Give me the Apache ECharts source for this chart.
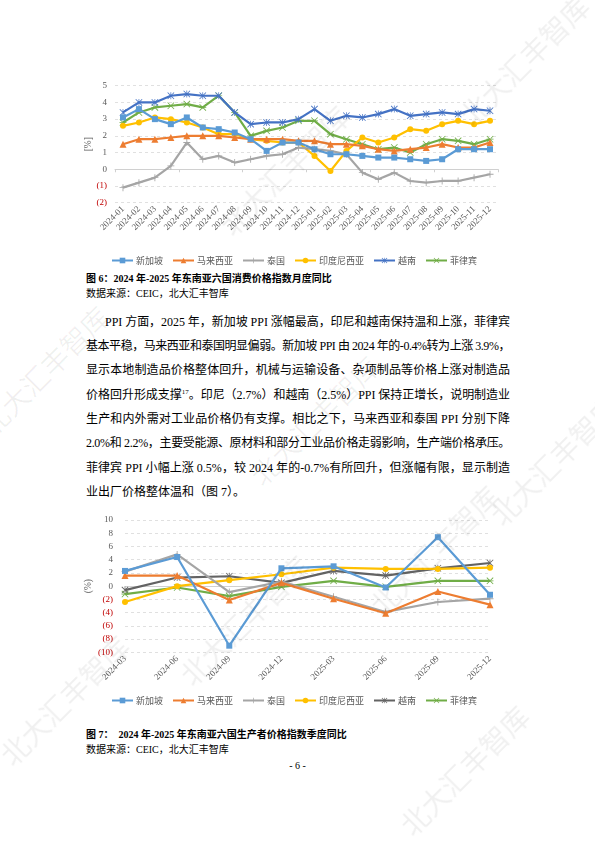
<!DOCTYPE html>
<html><head><meta charset="utf-8">
<script src="https://cdn.jsdelivr.net/npm/echarts@6/dist/echarts.min.js"></script>
<style>
html,body{margin:0;padding:0;}
body{width:595px;height:841px;background:#fff;position:relative;overflow:hidden;font-family:"Liberation Serif","Noto Sans CJK SC",serif;color:#000;}
#c1{position:absolute;left:0;top:70px;width:595px;height:200px;}
#c2{position:absolute;left:0;top:505px;width:595px;height:215px;}
.cap{position:absolute;left:86px;font-size:10px;font-weight:bold;white-space:nowrap;}
.src{position:absolute;left:86px;font-size:10px;white-space:nowrap;}
.para{position:absolute;left:86px;width:424px;top:309.5px;font-size:12px;line-height:24.4px;}
.para .ln{white-space:nowrap;text-align:justify;text-align-last:justify;height:24.4px;}
.para .last{text-align:left;text-align-last:left;}
.pg{position:absolute;left:0;width:595px;top:760px;text-align:center;font-size:10px;}
.wm{position:absolute;font-family:"Noto Sans CJK SC";font-size:28px;color:rgba(0,0,0,0.06);transform:rotate(-45deg);white-space:nowrap;pointer-events:none;}
</style>
</head><body>
<div id="c1"></div>
<div class="cap" style="top:270px;">图 6：2024 年-2025 年东南亚六国消费价格指数月度同比</div>
<div class="src" style="top:285px;">数据来源：CEIC，北大汇丰智库</div>
<div class="para" id="para">
<div class="ln" style="padding-left:19px;">PPI 方面，2025 年，新加坡 PPI 涨幅最高，印尼和越南保持温和上涨，菲律宾</div>
<div class="ln">基本平稳，马来西亚和泰国明显偏弱。新加坡 PPI 由 2024 年的-0.4%转为上涨 3.9%，</div>
<div class="ln">显示本地制造品价格整体回升，机械与运输设备、杂项制品等价格上涨对制造品</div>
<div class="ln">价格回升形成支撑<sup style="font-size:7px;line-height:0;">17</sup>。印尼（2.7%）和越南（2.5%）PPI 保持正增长，说明制造业</div>
<div class="ln">生产和内外需对工业品价格仍有支撑。相比之下，马来西亚和泰国 PPI 分别下降</div>
<div class="ln">2.0%和 2.2%，主要受能源、原材料和部分工业品价格走弱影响，生产端价格承压。</div>
<div class="ln">菲律宾 PPI 小幅上涨 0.5%，较 2024 年的-0.7%有所回升，但涨幅有限，显示制造</div>
<div class="ln last">业出厂价格整体温和（图 7）。</div>
</div>
<div id="c2"></div>
<div class="cap" style="top:726px;">图 7：&nbsp; 2024 年-2025 年东南亚六国生产者价格指数季度同比</div>
<div class="src" style="top:741px;">数据来源：CEIC，北大汇丰智库</div>
<div class="pg">- 6 -</div>
<div class="wm" style="left:440px;top:40px;">北大汇丰智库</div>
<div class="wm" style="left:-40px;top:350px;">北大汇丰智库</div>
<div class="wm" style="left:470px;top:440px;">北大汇丰智库</div>
<div class="wm" style="left:-20px;top:680px;">北大汇丰智库</div>
<div class="wm" style="left:380px;top:750px;">北大汇丰智库</div>
<div class="wm" style="left:200px;top:150px;">北大汇丰智库</div>
<div class="wm" style="left:230px;top:400px;">北大汇丰智库</div>
<div class="wm" style="left:160px;top:600px;">北大汇丰智库</div>
<div class="wm" style="left:350px;top:530px;">北大汇丰智库</div>
<script>
// ---------- data ----------
const months = ['2024-01','2024-02','2024-03','2024-04','2024-05','2024-06','2024-07','2024-08','2024-09','2024-10','2024-11','2024-12',
                '2025-01','2025-02','2025-03','2025-04','2025-05','2025-06','2025-07','2025-08','2025-09','2025-10','2025-11','2025-12'];
const names = ['新加坡','马来西亚','泰国','印度尼西亚','越南','菲律宾'];
const cpiSingapore   = [3.1,3.6,3.0,2.7,3.1,2.5,2.4,2.2,1.8,1.1,1.6,1.6,1.2,0.9,0.9,0.8,0.7,0.7,0.6,0.5,0.6,1.2,1.2,1.2];
const cpiMalaysia    = [1.5,1.8,1.8,1.9,2.0,2.0,2.0,1.9,1.8,1.8,1.8,1.7,1.7,1.5,1.5,1.4,1.2,1.1,1.2,1.3,1.5,1.3,1.3,1.6];
const cpiThailand    = [-1.1,-0.8,-0.5,0.2,1.6,0.6,0.8,0.4,0.6,0.8,0.9,1.3,1.2,1.1,0.9,-0.2,-0.6,-0.2,-0.7,-0.8,-0.7,-0.7,-0.5,-0.3];
const cpiIndonesia   = [2.6,2.8,3.1,3.0,2.8,2.5,2.1,2.1,1.8,1.7,1.6,1.6,0.8,-0.1,1.1,1.9,1.6,1.9,2.4,2.3,2.7,2.9,2.7,2.9];
const cpiVietnam     = [3.4,4.0,4.0,4.4,4.5,4.4,4.4,3.4,2.7,2.8,2.8,3.0,3.6,2.9,3.2,3.1,3.3,3.6,3.2,3.3,3.4,3.3,3.6,3.5];
const cpiPhilippines = [2.8,3.4,3.7,3.8,3.9,3.7,4.4,3.4,2.0,2.3,2.5,2.9,2.9,2.1,1.8,1.5,1.2,1.3,1.0,1.5,1.8,1.7,1.5,1.8];
const cpiTicks = [-2,-1,0,1,2,3,4,5];

const quarters = ['2024-03','2024-06','2024-09','2024-12','2025-03','2025-06','2025-09','2025-12'];
const ppiSingapore   = [2.3,4.4,-9.0,2.7,3.0,-0.2,7.4,-1.3];
const ppiMalaysia    = [1.6,1.6,-2.1,0.5,-1.9,-4.1,-0.8,-2.8];
const ppiThailand    = [2.2,4.8,-0.9,0.7,-1.6,-3.9,-2.4,-1.9];
const ppiIndonesia   = [-2.4,0.0,0.9,1.8,2.8,2.6,2.6,2.8];
const ppiVietnam     = [-0.6,1.3,1.5,0.5,2.3,1.6,2.7,3.5];
const ppiPhilippines = [-1.2,-0.2,-1.5,-0.1,0.8,-0.1,0.8,0.8];
const ppiTicks = [-10,-8,-6,-4,-2,0,2,4,6,8,10];

// ---------- styles ----------
const SYM_PLUS = 'path://M4.4,0H5.6V4.4H10V5.6H5.6V10H4.4V5.6H0V4.4H4.4Z';
const SYM_STAR = 'path://M4.5,0H5.5V10H4.5Z M0,0.8L0.8,0L10,9.2L9.2,10Z M10,0.8L9.2,0L0,9.2L0.8,10Z';
const SYM_X = 'path://M0,0.8L0.8,0L10,9.2L9.2,10Z M10,0.8L9.2,0L0,9.2L0.8,10Z M0,4.5H10V5.5H0Z';
const symbols = ['rect','triangle',SYM_PLUS,'circle',SYM_STAR,SYM_X];
const symSizes = [6,7,7,6,7,7];
const colors1 = ['#5B9BD5','#ED7D31','#A5A5A5','#FFC000','#4472C4','#70AD47'];
const colors2 = ['#5B9BD5','#ED7D31','#A5A5A5','#FFC000','#636363','#70AD47'];
const GRAY = '#595959';
const RED = '#C00000';
const fmt = v => v < 0 ? '(' + (-v) + ')' : String(v);

function makeSeries(arrs, colors){
  return arrs.map((d,i)=>({
    name: names[i], type:'line', data:d, xAxisIndex:0, yAxisIndex:0,
    symbol: symbols[i], symbolSize: symSizes[i], showSymbol:true,
    lineStyle:{color:colors[i], width:2.2},
    itemStyle:{color:colors[i], borderColor:colors[i], borderWidth:0},
    emphasis:{disabled:true}, animation:false, z: 10 - i
  }));
}

function makeOption(cfg){
  return {
    animation:false,
    color: cfg.colors,
    grid: cfg.grid,
    legend: {
      data: names, left: cfg.legendLeft, top: cfg.legendTop,
      itemWidth: 21, itemHeight: 7, itemGap: 9,
      textStyle:{fontFamily:'"Noto Sans CJK SC"', fontSize:9, color:GRAY, padding:[0,0,0,-2]}
    },
    xAxis: [
      { type:'category', data: cfg.cats, boundaryGap: cfg.boundaryGap, position:'bottom',
        axisLine:{show:false, onZero:false}, axisTick:{show:false},
        axisLabel:{interval:0, rotate:45, fontFamily:'"Liberation Serif"', fontSize:9, color:GRAY, margin:5},
        splitLine:{show:false} },
      { type:'category', data: cfg.cats, boundaryGap: cfg.boundaryGap, position:'bottom',
        axisLine:{show:true, onZero:true, lineStyle:{color:'#D0D0D0', width:1}},
        axisTick:{show:cfg.zeroTicks, length:3, lineStyle:{color:'#D0D0D0'}},
        axisLabel:{show:false}, splitLine:{show:false} }
    ],
    yAxis: {
      type:'value', min: cfg.ticks[0], max: cfg.ticks[cfg.ticks.length-1], interval: cfg.ticks[1]-cfg.ticks[0],
      name: cfg.yName, nameLocation:'middle', nameRotate:90, nameGap: cfg.nameGap, nameMoveOverlap:false,
      nameTextStyle:{fontFamily:'"Liberation Serif"', fontSize:9.5, color:GRAY},
      axisLine:{show:false}, axisTick:{show:false},
      axisLabel:{formatter: fmt, fontFamily:'"Liberation Serif"', fontSize:9, margin:cfg.labelMargin,
        color: v => (Number(v) < 0 ? RED : GRAY)},
      splitLine:{show:true, lineStyle:{color:'#D9D9D9', type:[3,3], width:0.8}}
    },
    series: makeSeries(cfg.data, cfg.colors)
  };
}

const c1 = echarts.init(document.getElementById('c1'), null, {renderer:'canvas'});
c1.setOption(makeOption({
  colors: colors1, cats: months, boundaryGap:true, zeroTicks:true,
  grid:{left:115, right:97, top:15.7, height:117},
  legendLeft:106, legendTop:181,
  ticks: cpiTicks, yName:'[%]', nameGap:22, labelMargin:8,
  data:[cpiSingapore,cpiMalaysia,cpiThailand,cpiIndonesia,cpiVietnam,cpiPhilippines]
}));

const c2 = echarts.init(document.getElementById('c2'), null, {renderer:'canvas'});
c2.setOption(makeOption({
  colors: colors2, cats: quarters, boundaryGap:false, zeroTicks:false,
  grid:{left:125, right:105, top:15, height:132.3},
  legendLeft:106, legendTop:186,
  ticks: ppiTicks, yName:'(%)', nameGap:32, labelMargin:12,
  data:[ppiSingapore,ppiMalaysia,ppiThailand,ppiIndonesia,ppiVietnam,ppiPhilippines]
}));

// fit each paragraph line into the text width
document.querySelectorAll('#para .ln').forEach(el=>{
  const target = 424 - (parseFloat(el.style.paddingLeft)||0);
  const range = document.createRange(); range.selectNodeContents(el);
  const w = range.getBoundingClientRect().width;
  if (w > target) {
    const n = el.textContent.length;
    el.style.letterSpacing = ((target - w) / n) + 'px';
  }
});
</script>
</body></html>
